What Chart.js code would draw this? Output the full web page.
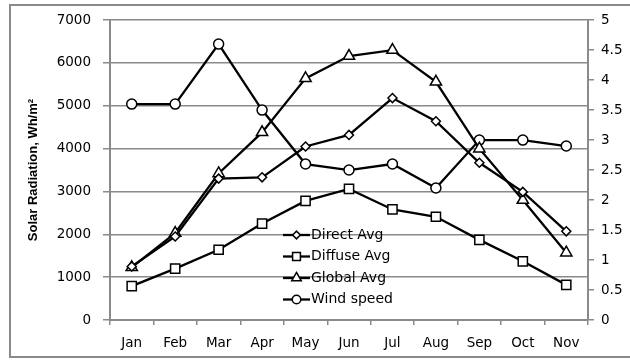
<!DOCTYPE html>
<html>
<head>
<meta charset="utf-8">
<script src="https://cdn.jsdelivr.net/npm/chart.js@4/dist/chart.umd.min.js"></script>
<style>
html,body{margin:0;padding:0;background:#fff;}
#wrap{width:630px;height:360px;position:relative;}
</style>
</head>
<body>
<div id="wrap"><canvas id="c" width="630" height="360"></canvas></div>
<script>
const months = ["Jan","Feb","Mar","Apr","May","Jun","Jul","Aug","Sep","Oct","Nov"];
const directAvg  = [1250, 1950, 3300, 3330, 4050, 4320, 5180, 4640, 3670, 2990, 2070];
const diffuseAvg = [790, 1200, 1640, 2250, 2780, 3060, 2580, 2410, 1870, 1370, 820];
const globalAvg  = [1230, 2030, 3420, 4380, 5640, 6160, 6300, 5560, 4000, 2800, 1570];
const windSpeed  = [3.6, 3.6, 4.6, 3.5, 2.6, 2.5, 2.6, 2.2, 3.0, 3.0, 2.9];
const leftTicks  = [0, 1000, 2000, 3000, 4000, 5000, 6000, 7000];
const rightTicks = [0, 0.5, 1, 1.5, 2, 2.5, 3, 3.5, 4, 4.5, 5];
const yTitle = "Solar Radiation, Wh/m\u00B2";

const GRID = '#8a8a8a';
const tickFont = {family: 'DejaVu Sans', size: 13.5};

function ds(label, data, style, radius, axis) {
  return {
    label, data, yAxisID: axis,
    borderColor: '#000', borderWidth: 2.3,
    pointStyle: style, pointRadius: radius, pointHoverRadius: radius,
    pointBackgroundColor: '#fff', pointBorderColor: '#000', pointBorderWidth: 1.5,
    fill: false, tension: 0
  };
}

const framePlugin = {
  id: 'frame',
  beforeDraw(chart) {
    const ctx = chart.ctx;
    ctx.save();
    ctx.fillStyle = '#fff';
    ctx.fillRect(0, 0, chart.width, chart.height);
    ctx.strokeStyle = '#8a8a8a';
    ctx.lineWidth = 2;
    ctx.strokeRect(10, 5, 640, 352);
    ctx.restore();
  }
};

const legendPlugin = {
  id: 'insideLegend',
  afterDatasetsDraw(chart) {
    const ctx = chart.ctx;
    const x0 = 283, x1 = 310, yStart = 235, gap = 21.5;
    ctx.save();
    chart.data.datasets.forEach((d, i) => {
      const y = yStart + i * gap;
      ctx.strokeStyle = '#000';
      ctx.lineWidth = 2.3;
      ctx.beginPath();
      ctx.moveTo(x0, y); ctx.lineTo(x1, y); ctx.stroke();
      ctx.fillStyle = '#fff';
      ctx.lineWidth = 1.5;
      Chart.helpers.drawPoint(ctx, {pointStyle: d.pointStyle, radius: d.pointRadius * 0.85, borderWidth: 1.5}, (x0 + x1) / 2, y);
      ctx.fillStyle = '#000';
      ctx.font = '14px "DejaVu Sans"';
      ctx.textBaseline = 'middle';
      ctx.textAlign = 'left';
      ctx.fillText(d.label, x1 + 1, y);
    });
    ctx.restore();
  }
};

new Chart(document.getElementById('c'), {
  type: 'line',
  data: {
    labels: months,
    datasets: [
      ds('Direct Avg', directAvg, 'rectRot', 4.5, 'y'),
      ds('Diffuse Avg', diffuseAvg, 'rect', 6.5, 'y'),
      ds('Global Avg', globalAvg, 'triangle', 6.5, 'y'),
      ds('Wind speed', windSpeed, 'circle', 5, 'y1')
    ]
  },
  options: {
    responsive: false,
    animation: false,
    devicePixelRatio: 1,
    layout: {padding: {top: 17, left: 0, right: 0, bottom: 0}},
    plugins: {legend: {display: false}, tooltip: {enabled: false}},
    scales: {
      x: {
        type: 'category',
        offset: true,
        grid: {offset: true, drawOnChartArea: false, drawTicks: true, tickLength: 5, color: GRID, lineWidth: 1.5},
        border: {color: GRID, width: 2},
        ticks: {color: '#000', font: tickFont, padding: 10, maxRotation: 0, autoSkip: false},
        afterFit(s) { s.height = 40; }
      },
      y: {
        position: 'left',
        min: 0, max: 7000,
        afterBuildTicks(s) { s.ticks = leftTicks.map(v => ({value: v})); },
        grid: {color: GRID, lineWidth: 1.5, tickLength: 7},
        border: {color: GRID, width: 2},
        ticks: {color: '#000', font: tickFont, padding: 12, callback: v => String(v)},
        title: {display: true, text: yTitle, color: '#000',
                font: {family: '"Liberation Sans Narrow", "Liberation Sans"', size: 13, weight: 'bold'},
                padding: {top: 26, bottom: 0}},
        afterFit(s) { s.width = 110; }
      },
      y1: {
        position: 'right',
        min: 0, max: 5,
        afterBuildTicks(s) { s.ticks = rightTicks.map(v => ({value: v})); },
        grid: {drawOnChartArea: false, color: GRID, lineWidth: 1.5, tickLength: 6},
        border: {color: GRID, width: 2},
        ticks: {color: '#000', font: tickFont, padding: 7, callback: v => String(v)},
        afterFit(s) { s.width = 42; }
      }
    }
  },
  plugins: [framePlugin, legendPlugin]
});
</script>
</body>
</html>
